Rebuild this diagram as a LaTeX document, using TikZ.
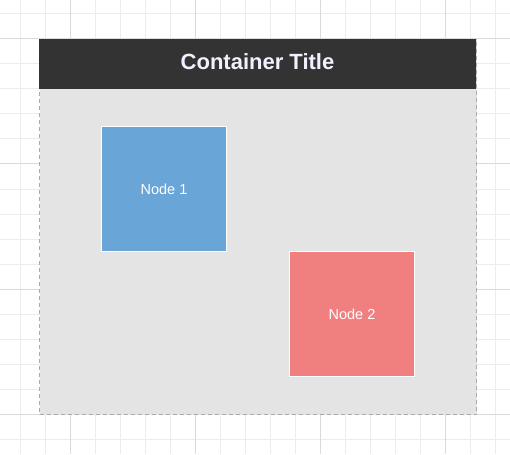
\documentclass[tikz,border=0pt]{standalone}
\usepackage{fontspec}
\setmainfont{Liberation Sans}
\definecolor{gridminor}{RGB}{236,236,236}
\definecolor{gridmajor}{RGB}{218,218,218}
\definecolor{titlebar}{RGB}{51,51,51}
\definecolor{bodygray}{RGB}{228,228,228}
\definecolor{borderdash}{RGB}{170,170,170}
\definecolor{nodeblue}{RGB}{106,165,216}
\definecolor{nodered}{RGB}{240,128,128}
\begin{document}
\begin{tikzpicture}[x=1pt,y=-1pt,
  nodebox/.style={draw=white, line width=1pt, minimum width=125pt, minimum height=125pt, inner sep=0pt, text=white, font=\fontsize{14.5}{16}\selectfont, anchor=north west},
  titletext/.style={text=white!94!blue, font=\bfseries\fontsize{22}{26}\selectfont}]
\useasboundingbox (0,0) rectangle (510,454);
\fill[white] (0,0) rectangle (510,454);
% minor grid
\foreach \x in {20.7,45.7,...,510} \draw[gridminor, line width=1pt] (\x,0) -- (\x,454);
\foreach \y in {14,39,...,454} \draw[gridminor, line width=1pt] (0,\y) -- (510,\y);
% major grid
\foreach \x in {70.7,195.7,320.7,445.7} \draw[gridmajor, line width=1pt] (\x,0) -- (\x,454);
\foreach \y in {39,164,289,414} \draw[gridmajor, line width=1pt] (0,\y) -- (510,\y);
% container
\node[fill=bodygray, draw=borderdash, dash pattern=on 4pt off 3pt, line width=1pt, minimum width=437pt, minimum height=375pt, inner sep=0pt, anchor=north west] (container) at (39,39) {};
\fill[titlebar] (39,39) rectangle (476,89);
\coordinate (titlecenter) at (257.5,62);
\node[titletext] (title) at (titlecenter) {Container Title};
% nodes
\node[nodebox, fill=nodeblue] (n1) at (101,126) {Node 1};
\node[nodebox, fill=nodered] (n2) at (289,251) {Node 2};
\end{tikzpicture}
\end{document}
